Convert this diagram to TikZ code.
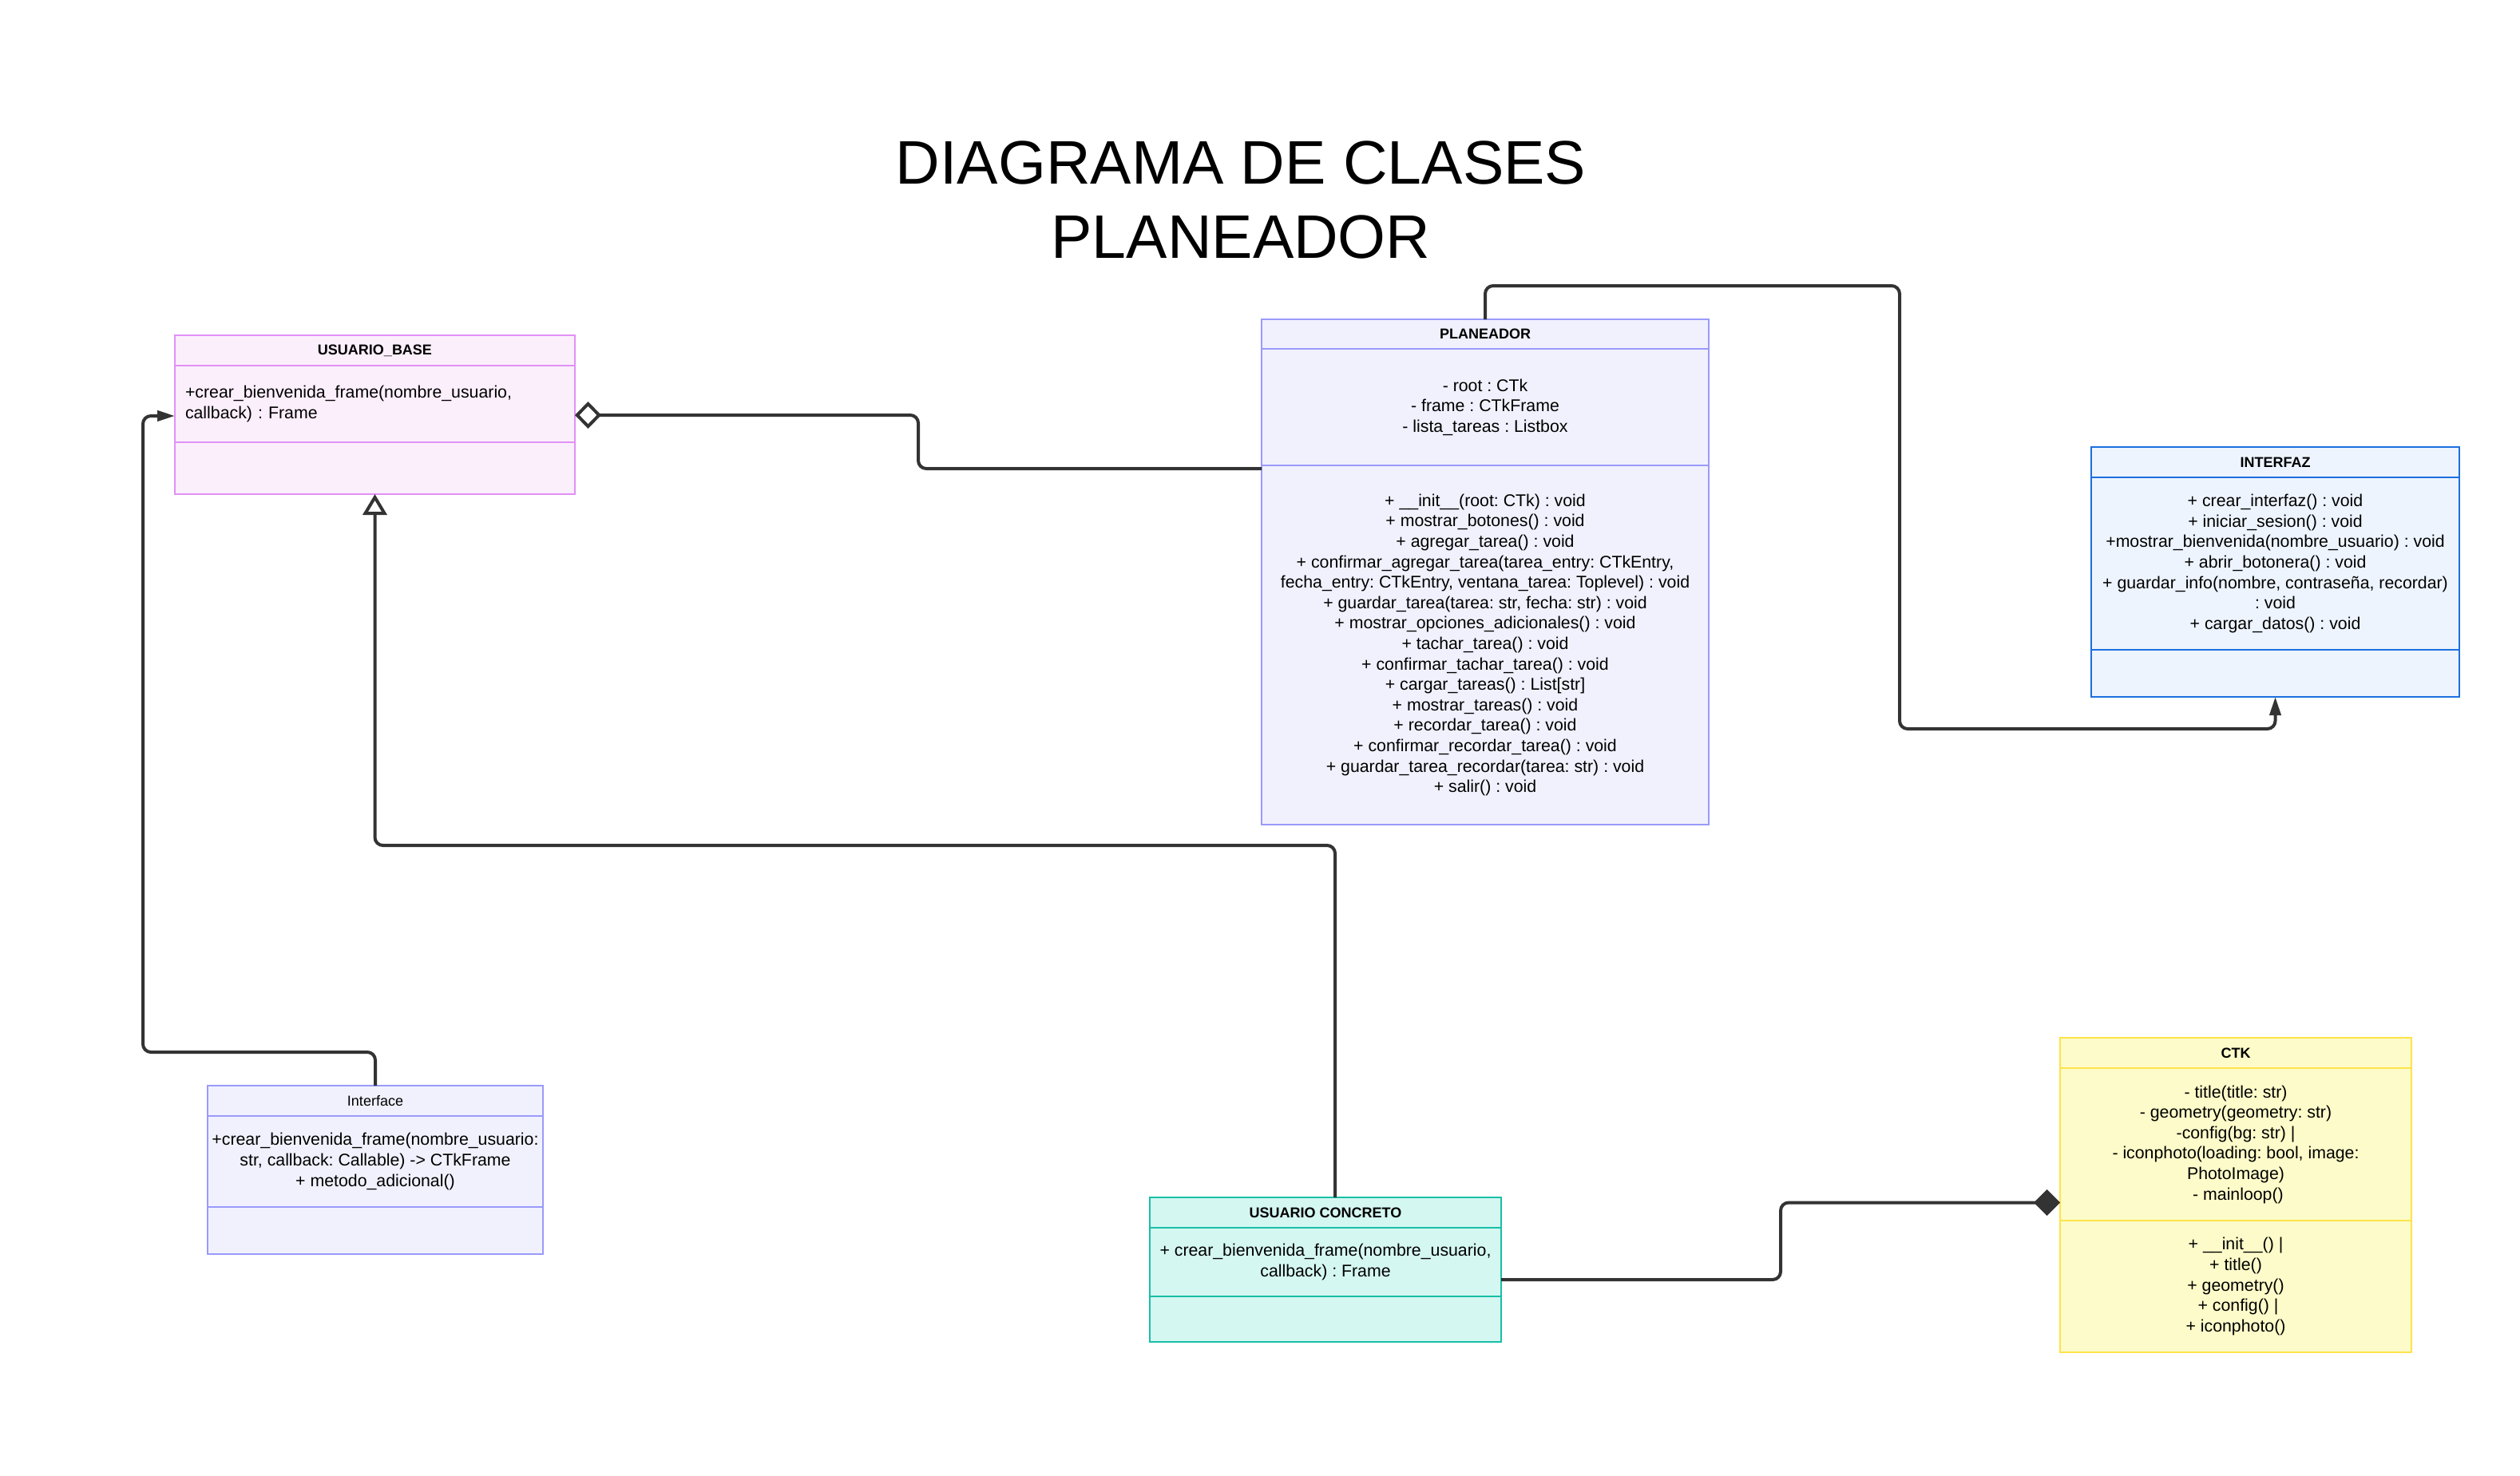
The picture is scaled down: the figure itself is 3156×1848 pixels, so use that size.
\documentclass[tikz,border=0pt]{standalone}
\usepackage{fontspec}
\setmainfont{Liberation Sans}
\usetikzlibrary{arrows.meta}
\frenchspacing

\definecolor{basefill}{HTML}{FBEFFC}
\definecolor{baseline}{HTML}{E191F6}
\definecolor{planfill}{HTML}{F1F1FE}
\definecolor{planline}{HTML}{9A9AFB}
\definecolor{intffill}{HTML}{EDF4FE}
\definecolor{intfline}{HTML}{1C6FE0}
\definecolor{uconfill}{HTML}{D5F7F1}
\definecolor{uconline}{HTML}{17BFA6}
\definecolor{ctkfill}{HTML}{FDFBC9}
\definecolor{ctkline}{HTML}{FDE34A}
\definecolor{linegray}{HTML}{333333}

\newcommand{\bodyfont}{\fontsize{10.65pt}{12.8pt}\selectfont}
\newcommand{\headfont}{\fontsize{9pt}{10.8pt}\selectfont\bfseries}

\tikzset{
  cbox/.style={draw, line width=1pt, anchor=north west, inner sep=0pt,
    outer sep=0pt, align=center, font=\bodyfont},
  ubase/.style={cbox, draw=baseline, fill=basefill, minimum width=250.5pt},
  plan/.style={cbox, draw=planline, fill=planfill, minimum width=280pt},
  intf/.style={cbox, draw=intfline, fill=intffill, minimum width=230.5pt},
  iface/.style={cbox, draw=planline, fill=planfill, minimum width=210pt},
  ucon/.style={cbox, draw=uconline, fill=uconfill, minimum width=220pt},
  ctk/.style={cbox, draw=ctkline, fill=ctkfill, minimum width=220pt},
  link/.style={draw=linegray, line width=2pt, rounded corners=5pt},
}

\begin{document}
\begin{tikzpicture}[x=0.5pt, y=-0.5pt]
\fill[white] (0,0) rectangle (3156,1848);
\useasboundingbox (0,0) rectangle (3156,1848);

\node[font=\fontsize{38.5pt}{46.5pt}\selectfont, align=center] (title) at (1554,250)
  {DIAGRAMA DE CLASES\\PLANEADOR};

% USUARIO_BASE
\node[ubase, minimum height=19pt, font=\headfont] (ubase-head) at (219,420) {USUARIO\_BASE};
\node[ubase, minimum height=48pt, text width=237.5pt, align=left] (ubase-attr) at (219,458)
  {+crear\_bienvenida\_frame(nombre\_usuario,\\callback) : Frame};
\node[ubase, minimum height=32.5pt] (ubase-meth) at (219,554) {};

% PLANEADOR
\node[plan, minimum height=18.5pt, font=\headfont] (plan-head) at (1580,400) {PLANEADOR};
\node[plan, minimum height=73pt] (plan-attr) at (1580,437)
  {- root : CTk\\- frame : CTkFrame\\- lista\_tareas : Listbox};
\node[plan, minimum height=225pt] (plan-meth) at (1580,583)
  {+ \_\_init\_\_(root: CTk) : void\\
   + mostrar\_botones() : void\\
   + agregar\_tarea() : void\\
   + confirmar\_agregar\_tarea(tarea\_entry: CTkEntry,\\
   fecha\_entry: CTkEntry, ventana\_tarea: Toplevel) : void\\
   + guardar\_tarea(tarea: str, fecha: str) : void\\
   + mostrar\_opciones\_adicionales() : void\\
   + tachar\_tarea() : void\\
   + confirmar\_tachar\_tarea() : void\\
   + cargar\_tareas() : List[str]\\
   + mostrar\_tareas() : void\\
   + recordar\_tarea() : void\\
   + confirmar\_recordar\_tarea() : void\\
   + guardar\_tarea\_recordar(tarea: str) : void\\
   + salir() : void};

% INTERFAZ
\node[intf, minimum height=19pt, font=\headfont] (intf-head) at (2619,560) {INTERFAZ};
\node[intf, minimum height=108pt] (intf-attr) at (2619,598)
  {+ crear\_interfaz() : void\\
   + iniciar\_sesion() : void\\
   +mostrar\_bienvenida(nombre\_usuario) : void\\
   + abrir\_botonera() : void\\
   + guardar\_info(nombre, contraseña, recordar)\\
   : void\\
   + cargar\_datos() : void};
\node[intf, minimum height=29.5pt] (intf-meth) at (2619,814) {};

% Interface
\node[iface, minimum height=19pt, font=\fontsize{9pt}{10.8pt}\selectfont] (iface-head) at (260,1360) {Interface};
\node[iface, minimum height=57pt] (iface-attr) at (260,1398)
  {+crear\_bienvenida\_frame(nombre\_usuario:\\
   str, callback: Callable) -> CTkFrame\\
   + metodo\_adicional()};
\node[iface, minimum height=29.5pt] (iface-meth) at (260,1512) {};

% USUARIO CONCRETO
\node[ucon, minimum height=19pt, font=\headfont] (ucon-head) at (1440,1500) {USUARIO CONCRETO};
\node[ucon, minimum height=43pt] (ucon-attr) at (1440,1538)
  {+ crear\_bienvenida\_frame(nombre\_usuario,\\callback) : Frame};
\node[ucon, minimum height=28.5pt] (ucon-meth) at (1440,1624) {};

% CTK
\node[ctk, minimum height=19pt, font=\headfont] (ctk-head) at (2580,1300) {CTK};
\node[ctk, minimum height=95.5pt] (ctk-attr) at (2580,1338)
  {- title(title: str)\\
   - geometry(geometry: str)\\
   -config(bg: str) |\\
   - iconphoto(loading: bool, image:\\
   PhotoImage)\\
   \ - mainloop()};
\node[ctk, minimum height=82.5pt] (ctk-meth) at (2580,1529)
  {+ \_\_init\_\_() |\\
   + title()\\
   + geometry()\\
   \ + config() |\\
   + iconphoto()};

% connectors
\draw[link, {Diamond[open, length=16.5pt, width=17pt]}-] ([yshift=-7pt]ubase-attr.east)
  -- (1150,520) -- (1150,587) -- ([yshift=-2pt]plan-meth.north west);
\draw[link, -{Triangle[open, length=13pt, width=15pt]}] ([xshift=6pt]ucon-head.north)
  -- ++(0,-441) -| (ubase-meth.south);
\draw[link, -{Triangle[length=11.5pt, width=7pt]}] (plan-head.north)
  |- (2379,358) -- (2379,913) -| (intf-meth.south);
\draw[link, -{Triangle[length=11pt, width=6.5pt]}] (iface-head.north)
  |- (179,1318) |- ([yshift=-7.5pt]ubase-attr.west);
\draw[link, -{Diamond[length=16.5pt, width=16.5pt]}] ([yshift=-11pt]ucon-attr.east)
  -- (2230,1603) |- ([yshift=-36.5pt]ctk-attr.west);
\end{tikzpicture}
\end{document}
